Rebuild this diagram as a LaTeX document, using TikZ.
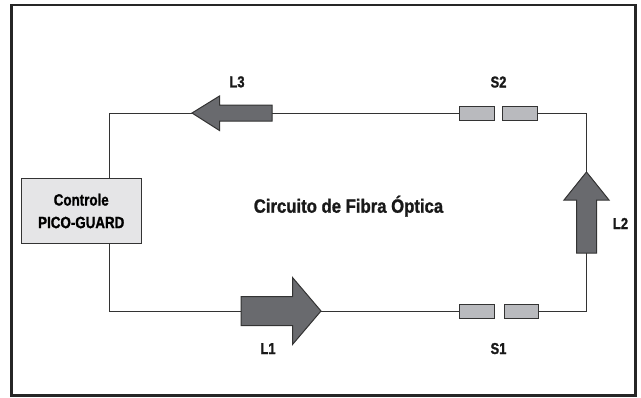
\documentclass[tikz,border=0pt]{standalone}
\usepackage{fontspec}
\newfontfamily\labelfont{Liberation Sans}[FakeStretch=0.82, BoldFeatures={FakeBold=1.2}]
\newfontfamily\titlefont{Liberation Sans}[FakeStretch=0.87, BoldFeatures={FakeBold=1.2}]
\definecolor{wiregray}{HTML}{333333}
\definecolor{framegray}{HTML}{262626}
\definecolor{arrowfill}{HTML}{696A6E}
\definecolor{splicefill}{HTML}{B9BABE}
\definecolor{ctrlfill}{HTML}{E5E5E7}
\tikzset{
  wire/.style={draw=wiregray, line width=1pt},
  fatarrow/.style={fill=arrowfill, draw=wiregray, line width=1pt, line join=miter},
  splice/.style={draw=wiregray, fill=splicefill, line width=1pt, minimum width=34.5pt, minimum height=14pt, inner sep=0pt},
  ctrlbox/.style={draw=wiregray, fill=ctrlfill, line width=1pt, minimum width=119.5pt, minimum height=65pt, inner sep=0pt, align=center, font=\labelfont\bfseries\fontsize{16.3}{22.6}\selectfont},
  lbl/.style={anchor=base, inner sep=0pt, font=\labelfont\bfseries\fontsize{15.8}{18}\selectfont, text=black!90},
}
\begin{document}
\begin{tikzpicture}[x=1pt, y=-1pt]
\useasboundingbox (0,0) rectangle (641,397);
% outer frame
\draw[framegray, line width=2.6pt] (11.5,5) rectangle (635.5,395.5);

% controller and splice points
\node[ctrlbox] (ctrl) at (81.25,211) {Controle\\PICO-GUARD};
\node[splice] (s2a) at (477.2,113.5) {};
\node[splice] (s2b) at (520,113.5) {};
\node[splice] (s1a) at (477.2,311.8) {};
\node[splice] (s1b) at (521.5,311.8) {};

% loop corners
\coordinate (tl) at (109,113);
\coordinate (tr) at (586,113);
\coordinate (br) at (586,311);
\coordinate (bl) at (109,311);

% fibre loop
\draw[wire] (ctrl.north -| tl) -- (tl) -- (s2a.west |- tl);
\draw[wire] (s2b.east |- tr) -- (tr) -- (br) -- (s1b.east |- br);
\draw[wire] (s1a.west |- bl) -- (bl) -- (ctrl.south -| bl);

% direction arrows
\draw[fatarrow] (241,296.5) -- (292.5,296.5) -- (292.5,277.5) -- (321,311)
  -- (292.5,344.5) -- (292.5,325.5) -- (241,325.5) -- cycle;
\draw[fatarrow] (576.5,253) -- (576.5,200) -- (564,200) -- (586.5,172)
  -- (609,200) -- (596.5,200) -- (596.5,253) -- cycle;
\draw[fatarrow] (272,105) -- (219.5,105) -- (219.5,96) -- (192,113)
  -- (219.5,130.5) -- (219.5,121) -- (272,121) -- cycle;

% labels
\node[lbl] (l3) at (237,87.3) {L3};
\node[lbl] (s2) at (498.5,87.5) {S2};
\node[lbl] (l1) at (268,354) {L1};
\node[lbl] (s1) at (498.5,354) {S1};
\node[lbl] (l2) at (620.5,229) {L2};
\node[anchor=base, inner sep=0pt, font=\titlefont\bfseries\fontsize{19.2}{22}\selectfont, text=black!90] (title) at (348.5,212.7) {Circuito de Fibra Óptica};
\end{tikzpicture}
\end{document}
